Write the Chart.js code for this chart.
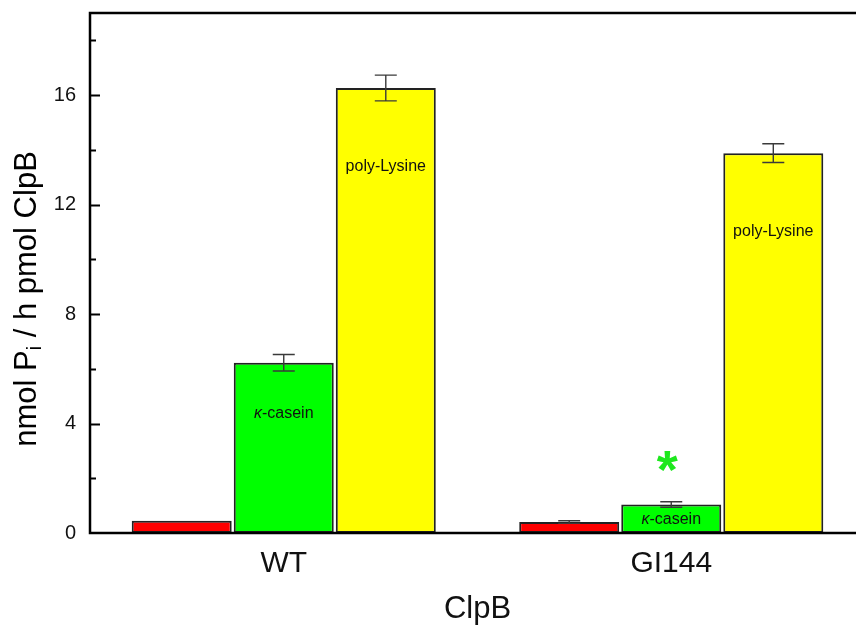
<!DOCTYPE html>
<html>
<head>
<meta charset="utf-8">
<script src="https://cdn.jsdelivr.net/npm/chart.js@4.4.1/dist/chart.umd.min.js"></script>
<style>
  html, body { margin: 0; padding: 0; background: #fff; overflow: hidden; }
  #wrap { width: 880px; height: 625px; }
</style>
</head>
<body>
<div id="wrap"><canvas id="atpase"></canvas></div>
<script>
// ATPase activity of ClpB variants, basal and substrate-stimulated
const strains = ['WT', 'GI144'];
const substrates = ['basal', 'κ-casein', 'poly-Lysine'];
const basal = [0.45, 0.40];
const casein = [6.22, 1.04];
const polyLys = [16.26, 13.88];
const basalErr = [0, 0.05];
const caseinErr = [0.30, 0.10];
const polyLysErr = [0.47, 0.34];
const yTicks = [0, 4, 8, 12, 16];

const FONT = '"Liberation Sans", Arial, sans-serif';

// text placed inside / above bars: dataset, category, value height
const barNotes = [
  { ds: 1, idx: 0, at: 4.35, kind: 'casein' },
  { ds: 2, idx: 0, at: 13.4, kind: 'lys' },
  { ds: 1, idx: 1, at: 0.5, kind: 'casein' },
  { ds: 2, idx: 1, at: 11.0, kind: 'lys' },
  { ds: 1, idx: 1, at: 2.55, kind: 'star' }
];

const errorBars = {
  id: 'errorBars',
  afterDatasetsDraw(chart) {
    const ctx = chart.ctx, y = chart.scales.y;
    ctx.save();
    ctx.strokeStyle = '#3a3a3a';
    ctx.lineWidth = 1.4;
    chart.data.datasets.forEach((ds, i) => {
      chart.getDatasetMeta(i).data.forEach((bar, j) => {
        const e = ds.errors[j];
        if (!e) return;
        const v = ds.data[j];
        const top = y.getPixelForValue(v + e), bot = y.getPixelForValue(v - e);
        ctx.beginPath();
        ctx.moveTo(bar.x, top); ctx.lineTo(bar.x, bot);
        ctx.moveTo(bar.x - 11, top); ctx.lineTo(bar.x + 11, top);
        ctx.moveTo(bar.x - 11, bot); ctx.lineTo(bar.x + 11, bot);
        ctx.stroke();
      });
    });
    ctx.restore();
  }
};

const frameAndText = {
  id: 'frameAndText',
  afterDatasetsDraw(chart) {
    const ctx = chart.ctx, a = chart.chartArea, y = chart.scales.y;
    ctx.save();
    // frame
    ctx.strokeStyle = '#000';
    ctx.lineWidth = 2.5;
    ctx.strokeRect(a.left, a.top, a.right - a.left, a.bottom - a.top);
    // inward y ticks, minor every 2
    ctx.lineWidth = 2;
    for (let v = 2; v <= 18; v += 2) {
      const py = Math.round(y.getPixelForValue(v)) + 0.5;
      const len = v % 4 === 0 ? 10 : 6;
      ctx.beginPath();
      ctx.moveTo(a.left, py); ctx.lineTo(a.left + len, py);
      ctx.stroke();
    }
    // notes on bars
    barNotes.forEach(n => {
      const bar = chart.getDatasetMeta(n.ds).data[n.idx];
      const py = y.getPixelForValue(n.at);
      ctx.textBaseline = 'middle';
      if (n.kind === 'star') {
        ctx.fillStyle = '#1ee81e';
        ctx.font = 'bold 54px ' + FONT;
        ctx.textAlign = 'center';
        ctx.textBaseline = 'alphabetic';
        ctx.fillText('*', bar.x - 4, py + 25);
      } else if (n.kind === 'lys') {
        ctx.fillStyle = '#111';
        ctx.font = '16px ' + FONT;
        ctx.textAlign = 'center';
        ctx.fillText('poly-Lysine', bar.x, py);
      } else {
        ctx.fillStyle = '#111';
        ctx.font = 'italic 16px ' + FONT;
        const w1 = ctx.measureText('κ').width;
        ctx.font = '16px ' + FONT;
        const w2 = ctx.measureText('-casein').width;
        const x0 = bar.x - (w1 + w2) / 2;
        ctx.textAlign = 'left';
        ctx.font = 'italic 16px ' + FONT;
        ctx.fillText('κ', x0, py);
        ctx.font = '16px ' + FONT;
        ctx.fillText('-casein', x0 + w1, py);
      }
    });
    // y axis title with subscript
    const main = '31px ' + FONT, sub = '20px ' + FONT;
    const parts = [['nmol P', main, 0], ['i', sub, 8], [' / h pmol ClpB', main, 0]];
    let total = 0;
    parts.forEach(p => { ctx.font = p[1]; total += ctx.measureText(p[0]).width; });
    ctx.translate(27, 299);
    ctx.rotate(-Math.PI / 2);
    ctx.fillStyle = '#000';
    ctx.textAlign = 'left';
    ctx.textBaseline = 'middle';
    let x = -total / 2;
    parts.forEach(p => {
      ctx.font = p[1];
      ctx.fillText(p[0], x, p[2]);
      x += ctx.measureText(p[0]).width;
    });
    ctx.restore();
  }
};

const colors = ['#ff0000', '#00ff00', '#ffff00'];
const values = [basal, casein, polyLys];
const errs = [basalErr, caseinErr, polyLysErr];

new Chart(document.getElementById('atpase'), {
  type: 'bar',
  data: {
    labels: strains,
    datasets: substrates.map((s, i) => ({
      label: s,
      data: values[i],
      errors: errs[i],
      backgroundColor: colors[i],
      borderColor: '#222',
      borderWidth: 2,
      borderSkipped: false,
      categoryPercentage: 0.79,
      barPercentage: 0.98
    }))
  },
  options: {
    responsive: true,
    maintainAspectRatio: false,
    animation: false,
    layout: { padding: { left: 0, top: 13, right: 15, bottom: 0 } },
    plugins: { legend: { display: false }, tooltip: { enabled: false } },
    scales: {
      x: {
        grid: { display: false, drawTicks: false },
        border: { display: false },
        ticks: { color: '#111', font: { family: FONT, size: 30 }, padding: 13 },
        title: { display: true, text: 'ClpB', color: '#111', font: { family: FONT, size: 31, lineHeight: 1 }, padding: { top: 0, bottom: 0 } },
        afterFit(s) { s.height = 92; s.paddingLeft = 0; s.paddingRight = 0; }
      },
      y: {
        min: 0, max: 19,
        grid: { display: false, drawTicks: false },
        border: { display: false },
        afterBuildTicks(s) { s.ticks = yTicks.map(v => ({ value: v })); },
        ticks: { color: '#111', font: { family: FONT, size: 20 }, padding: 14 },
        afterFit(s) { s.width = 90; s.paddingTop = 0; s.paddingBottom = 0; }
      }
    }
  },
  plugins: [errorBars, frameAndText]
});
</script>
</body>
</html>
